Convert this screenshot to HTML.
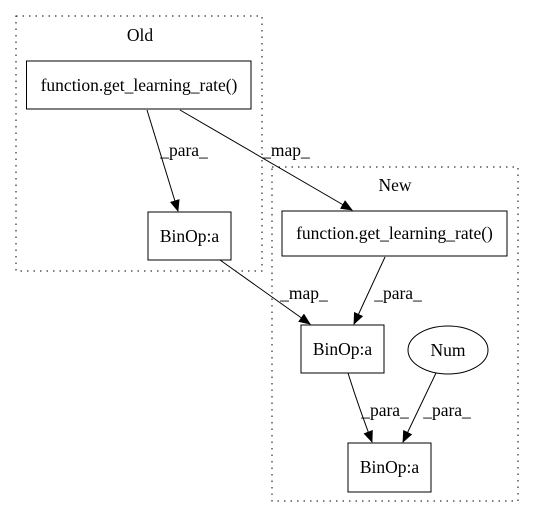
<!DOCTYPE html>
<html><head><style>html,body{margin:0;padding:0;background:#fff}</style></head><body>
<svg width="533" height="518" viewBox="0 0 533 518" xmlns="http://www.w3.org/2000/svg" font-family="Liberation Serif, serif" font-size="17.5">
<defs><marker id="a" markerWidth="12" markerHeight="10" refX="11" refY="5" orient="auto" markerUnits="userSpaceOnUse"><path d="M0,0 L12,5 L0,10 z" fill="#000"/></marker></defs>
<rect x="16" y="16" width="246" height="255" fill="none" stroke="#000" stroke-dasharray="1.5,5"/>
<rect x="272" y="167" width="246" height="334" fill="none" stroke="#000" stroke-dasharray="1.5,5"/>
<text x="140" y="41" text-anchor="middle">Old</text>
<text x="395" y="191" text-anchor="middle">New</text>
<rect x="26.5" y="61" width="224.5" height="48" fill="none" stroke="#000"/>
<text x="139" y="91" text-anchor="middle">function.get_learning_rate()</text>
<rect x="148" y="212" width="83" height="48" fill="none" stroke="#000"/>
<text x="189.5" y="242" text-anchor="middle">BinOp:a</text>
<rect x="282" y="211" width="225" height="45" fill="none" stroke="#000"/>
<text x="394.5" y="239" text-anchor="middle">function.get_learning_rate()</text>
<rect x="301" y="325" width="83" height="48" fill="none" stroke="#000"/>
<text x="342.5" y="355" text-anchor="middle">BinOp:a</text>
<ellipse cx="448" cy="350" rx="40" ry="24" fill="none" stroke="#000"/>
<text x="448" y="356" text-anchor="middle">Num</text>
<rect x="348" y="443" width="83" height="49" fill="none" stroke="#000"/>
<text x="389.5" y="473" text-anchor="middle">BinOp:a</text>
<g stroke="#000" fill="none" marker-end="url(#a)">
<path d="M147,110 L178,211"/>
<path d="M180,110 L352,210"/>
<path d="M220,260 L310,324"/>
<path d="M385,257 L354,324"/>
<path d="M348,373 Q358,405 372,442"/>
<path d="M436,373 L403,442"/>
</g>
<text x="184" y="156" text-anchor="middle">_para_</text>
<text x="286" y="156" text-anchor="middle">_map_</text>
<text x="304" y="299" text-anchor="middle">_map_</text>
<text x="398" y="299" text-anchor="middle">_para_</text>
<text x="385" y="416" text-anchor="middle">_para_</text>
<text x="447" y="416" text-anchor="middle">_para_</text>
</svg>
</body></html>
